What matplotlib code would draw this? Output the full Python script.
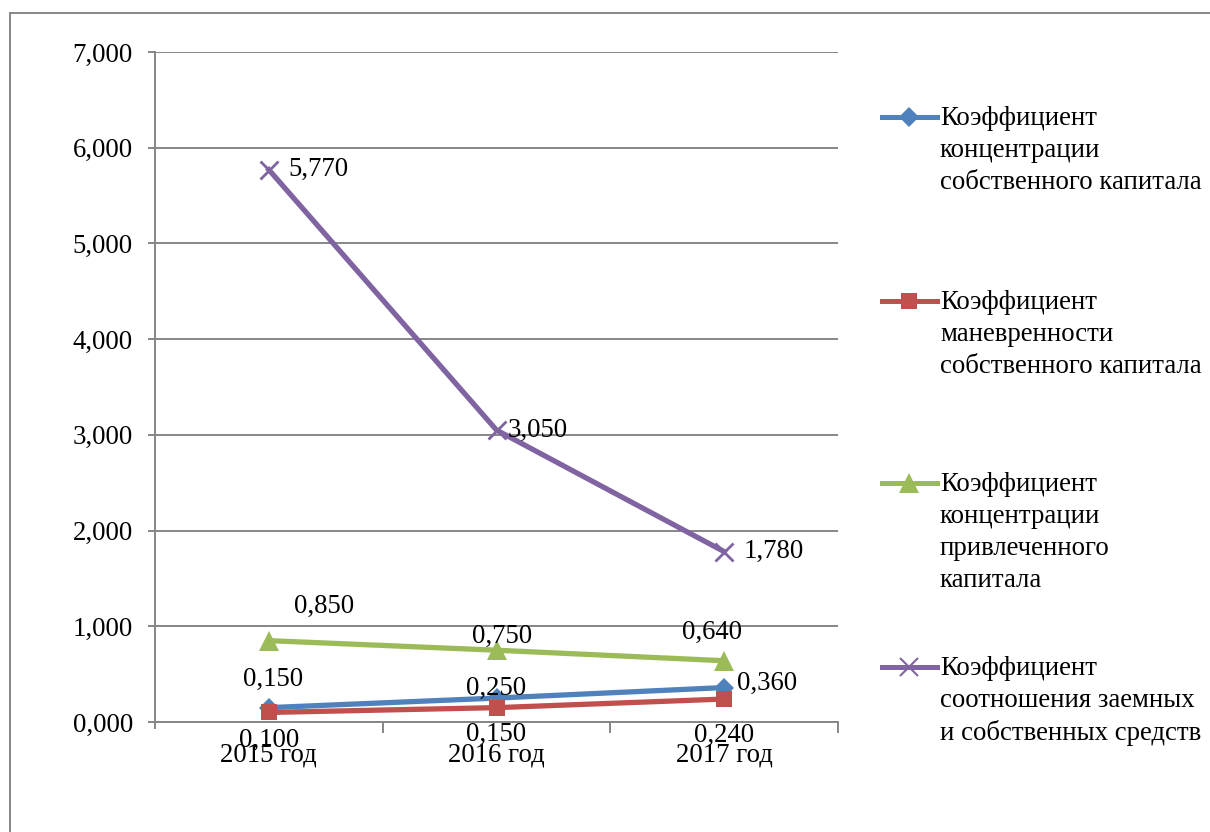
import numpy as np
import matplotlib.pyplot as plt
from matplotlib.lines import Line2D
from matplotlib.patches import Rectangle
from matplotlib.ticker import FuncFormatter, FixedLocator

plt.rcParams['font.family'] = ['Liberation Serif', 'DejaVu Serif']

years = ['2015 год', '2016 год', '2017 год']

# coefficients by year
k_conc_own = [0.150, 0.250, 0.360]
k_manevr = [0.100, 0.150, 0.240]
k_conc_borrowed = [0.850, 0.750, 0.640]
k_debt_equity = [5.770, 3.050, 1.780]

labels = ['Коэффициент\nконцентрации\nсобственного капитала',
          'Коэффициент\nманевренности\nсобственного капитала',
          'Коэффициент\nконцентрации\nпривлеченного\nкапитала',
          'Коэффициент\nсоотношения заемных\nи собственных средств']

colors = ['#4F81BD', '#C0504D', '#9BBB59', '#8064A2']
markers = ['D', 's', '^', 'x']
msizes = [10, 12, 14, 13]

# label offsets (pixels) for each series / point
offsets = [
    [(4, 28), (0, 10), (43, 4)],
    [(0, -28), (0, -27), (0, -36)],
    [(55, 34), (6, 14), (-12, 28)],
    [(50, 0), (41, 0), (50, 0)],
]

series = [k_conc_own, k_manevr, k_conc_borrowed, k_debt_equity]

FS = 19.3
W, H = 1210, 832
fig = plt.figure(figsize=(W / 100, H / 100), dpi=100)
ax = fig.add_axes([155 / W, 1 - 722 / H, (838 - 155) / W, (722 - 52) / H])

x = np.arange(len(years)) + 0.5
fmt = lambda v: f'{v:.3f}'.replace('.', ',')

for vals, c, m, ms, offs in zip(series, colors, markers, msizes, offsets):
    ax.plot(x, vals, color=c, lw=3.8, marker=m, ms=ms, mew=2 if m == 'x' else 0,
            mec=c, mfc=c, zorder=3, clip_on=False)
    for xi, v, (dx, dy) in zip(x, vals, offs):
        ax.annotate(fmt(v), (xi, v), xytext=(dx * 0.72, dy * 0.72),
                    textcoords='offset points', ha='center', va='center',
                    fontsize=FS, zorder=4)

ax.set_xlim(0, 3)
ax.set_ylim(0, 7)
ax.yaxis.set_major_locator(FixedLocator(np.arange(0, 8)))
ax.yaxis.set_major_formatter(FuncFormatter(lambda v, p: fmt(v)))
ax.set_xticks(x)
ax.set_xticklabels(years)
ax.xaxis.set_minor_locator(FixedLocator([1, 2, 3]))

grid_c = '#868686'
ax.grid(axis='y', color=grid_c, lw=1.4)
ax.set_axisbelow(True)
for s in ['top', 'right']:
    ax.spines[s].set_visible(False)
for s in ['left', 'bottom']:
    ax.spines[s].set_color(grid_c)
    ax.spines[s].set_linewidth(1.4)
ax.spines['left'].set_bounds(-0.06, 7)

ax.tick_params(axis='y', length=5, width=1.4, color=grid_c, pad=11, labelsize=FS)
ax.tick_params(axis='x', which='major', length=0, pad=15, labelsize=FS)
ax.tick_params(axis='x', which='minor', length=8, width=1.4, color=grid_c)

# legend drawn at fixed slots on the right
legend_y = [117, 301, 483, 667]
for lab, c, m, ms, ly in zip(labels, colors, markers, msizes, legend_y):
    yf = 1 - ly / H
    fig.add_artist(Line2D([882 / W, 937 / W], [yf, yf], color=c, lw=3.6))
    fig.add_artist(Line2D([909.5 / W], [yf], color=c, marker=m, ms=ms,
                          mew=1.5 if m == 'x' else 0, mec=c, mfc=c))
    fig.text(940 / W, yf + 11 / H, lab, ha='left', va='top', fontsize=FS,
             linespacing=1.36)

# chart frame
fig.add_artist(Rectangle((10 / W, -0.05), 1.1, 1.05 - 12.5 / H,
                         transform=fig.transFigure, fill=False,
                         edgecolor=grid_c, lw=1.4))

fig.savefig('out.png', dpi=100)
